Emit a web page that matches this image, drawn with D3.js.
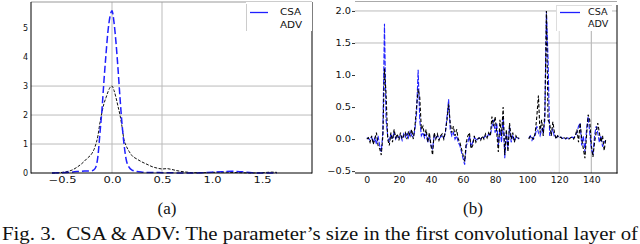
<!DOCTYPE html>
<html><head><meta charset="utf-8">
<script src="https://cdn.jsdelivr.net/npm/d3@7"></script>
<style>body{margin:0;background:#fff}svg{display:block}</style>
</head><body>
<svg id="c" width="640" height="244"></svg>
<script>
// Panel (a): density of parameter sizes
const densX   = [-0.6,-0.5,-0.45,-0.4,-0.35,-0.3,-0.25,-0.2,-0.17,-0.14,-0.12,-0.1,-0.08,-0.06,-0.04,-0.02,0,0.02,0.04,0.06,0.08,0.1,0.12,0.14,0.17,0.2,0.25,0.3,0.35,0.4,0.45,0.5,0.55,0.6,0.65,0.7,0.75,0.8,0.9,1.0,1.1,1.2,1.3,1.4,1.5,1.6,1.65];
const densCSA = [0,0.01,0.02,0.03,0.05,0.06,0.07,0.08,0.15,0.6,1.4,2.2,3.2,4.1,4.9,5.4,5.6,5.2,4.5,3.6,2.6,1.7,1.0,0.5,0.2,0.1,0.05,0.03,0.02,0.02,0.02,0.01,0.01,0.01,0.0,0.0,0.0,0.0,0.01,0.03,0.04,0.06,0.04,0.01,0,0,0];
const densADV = [0,0.02,0.05,0.1,0.2,0.33,0.5,0.68,0.9,1.3,1.75,2.1,2.4,2.6,2.8,2.95,3.0,2.85,2.6,2.3,2.0,1.6,1.15,0.95,0.75,0.6,0.48,0.38,0.3,0.22,0.17,0.14,0.15,0.12,0.08,0.05,0.03,0.01,0.01,0.02,0.03,0.02,0.01,0.0,0.01,0.03,0.02];
const aXTicks = [-0.5,0.0,0.5,1.0,1.5];
const aYTicks = [0,1,2,3,4,5];

// Panel (b): parameter values by index (null = gap)
const idx = d3.range(150);
const paramCSA = [0.02,0.01,-0.02,0.03,-0.05,0.02,-0.08,0.05,-0.1,-0.2,0.1,1.8,0.3,0.05,-0.05,0.08,0.02,0.1,0.0,0.05,
 0.02,0.06,-0.02,0.08,0.03,0.1,0.02,0.12,0.05,0.03,0.15,0.4,1.08,0.3,0.05,0.1,0.02,0.08,-0.05,0.05,
 -0.1,-0.15,0.05,0.02,0.05,0.0,0.03,0.05,0.02,0.1,0.35,0.62,0.15,0.05,0.1,0.0,0.05,-0.05,-0.1,-0.2,
 -0.3,-0.4,-0.1,-0.05,0.05,-0.12,-0.05,0.02,0.0,-0.02,0.02,0.0,0.03,0.02,0.05,0.03,0.08,0.05,0.2,0.3,
 0.1,0.25,-0.1,0.15,-0.05,0.35,-0.3,0.1,-0.15,0.2,-0.05,0.05,-0.02,0.03,0.02,0.0,null,null,null,null,
 null,0.02,0.05,-0.02,0.03,0.05,0.2,0.1,0.05,0.15,0.1,0.3,2.0,1.25,0.05,0.1,0.15,0.03,0.02,0.05,
 0.02,0.03,0.01,0.02,0.0,0.02,0.01,0.02,0.03,0.02,0.05,0.1,0.2,0.25,-0.1,0.05,-0.2,0.15,0.35,0.1,
 -0.15,-0.25,0.05,0.2,0.1,-0.05,0.05,-0.12,-0.05,-0.02];
const paramADV = [0.0,0.02,-0.05,0.05,-0.08,0.0,0.1,-0.1,-0.15,-0.25,0.05,1.1,0.7,0.0,-0.1,0.1,-0.05,0.15,0.02,0.08,
 -0.02,0.1,0.0,0.05,0.1,0.0,0.12,0.05,0.15,0.0,0.2,0.5,0.78,0.65,0.15,0.2,0.05,0.15,-0.05,0.1,
 -0.1,-0.25,0.1,0.0,0.08,-0.02,0.05,0.08,0.0,0.12,0.3,0.55,0.25,0.1,0.2,0.05,0.15,0.0,-0.05,-0.15,
 -0.25,-0.35,-0.05,0.05,0.1,-0.15,-0.1,0.05,-0.05,0.0,0.02,-0.02,0.05,0.0,0.08,0.02,0.1,0.05,0.35,0.2,
 0.35,0.1,-0.2,0.3,0.05,0.5,-0.25,0.15,-0.2,0.25,0.0,0.1,-0.05,0.05,0.0,0.02,null,null,null,null,
 null,0.0,0.05,0.02,0.0,0.1,0.35,0.68,0.1,0.3,0.05,0.4,2.0,0.3,0.25,0.05,0.27,0.1,0.0,0.05,
 0.02,0.03,0.0,0.02,0.01,0.02,0.0,0.02,0.03,0.0,0.05,0.15,-0.05,0.25,0.0,-0.15,-0.3,0.05,0.38,0.3,
 -0.1,-0.28,-0.05,0.1,0.25,0.1,-0.05,0.05,-0.18,0.0];
const bXTicks = [0,20,40,60,80,100,120,140];
const bYTicks = [-0.5,0.0,0.5,1.0,1.5,2.0];

const series = ["CSA","ADV"];
const colors = {CSA:"#1f1fff", ADV:"#000"};

const svg = d3.select("#c");
const sans = "DejaVu Sans, sans-serif";
function stretch(sel, k){
  sel.each(function(){
    const L = this.getComputedTextLength();
    this.setAttribute("textLength", L*k);
    this.setAttribute("lengthAdjust","spacingAndGlyphs");
  });
}

// ---------- Panel (a) ----------
{
  const x = d3.scaleLinear().domain([-0.81,2.0]).range([31,312]);
  const y = d3.scaleLinear().domain([0,5.9]).range([173,2]);
  const g = svg.append("g");
  g.selectAll(".gx").data([0,0.5]).join("line")
    .attr("x1",d=>x(d)).attr("x2",d=>x(d)).attr("y1",2).attr("y2",173)
    .attr("stroke","#bbb").attr("stroke-width",1);
  g.selectAll(".gy").data([1,2,3]).join("line")
    .attr("x1",31).attr("x2",312).attr("y1",d=>y(d)).attr("y2",d=>y(d))
    .attr("stroke","#bbb").attr("stroke-width",1);
  const line = (ys)=>d3.line().x((d,i)=>x(densX[i])).y(d=>y(d)).curve(d3.curveMonotoneX)(ys);
  g.append("path").attr("d",line(densADV)).attr("fill","none").attr("stroke","#111")
    .attr("stroke-width",1).attr("stroke-dasharray","3,1.5");
  g.append("path").attr("d",line(densCSA)).attr("fill","none").attr("stroke",colors.CSA)
    .attr("stroke-width",1.5).attr("stroke-dasharray","7,3");
  g.append("line").attr("x1",31).attr("x2",312).attr("y1",2).attr("y2",2).attr("stroke","#999");
  g.append("line").attr("x1",31).attr("x2",31).attr("y1",2).attr("y2",173.5).attr("stroke","#000");
  g.append("line").attr("x1",312).attr("x2",312).attr("y1",2).attr("y2",173.5).attr("stroke","#000");
  g.append("line").attr("x1",31).attr("x2",312).attr("y1",173).attr("y2",173).attr("stroke","#000");
  const ax = g.append("g").attr("transform","translate(0,173)")
    .call(d3.axisBottom(x).tickValues(aXTicks).tickSize(0).tickPadding(4).tickFormat(d=>d3.format(".1f")(d).replace("-","−")));
  ax.select(".domain").remove();
  ax.selectAll("text").attr("font-family",sans).attr("font-size",8.5).attr("fill","#111").call(stretch,1.35);
  const ay = g.append("g").attr("transform","translate(28,0)")
    .call(d3.axisLeft(y).tickValues(aYTicks).tickSize(0).tickPadding(0).tickFormat(d3.format("d")));
  ay.select(".domain").remove();
  ay.selectAll("text").attr("font-family",sans).attr("font-size",8).attr("fill","#111");
  const lg = g.append("g");
  lg.append("rect").attr("x",246).attr("y",2).attr("width",66).attr("height",29).attr("fill","#fff");
  lg.append("line").attr("x1",246.5).attr("x2",246.5).attr("y1",4).attr("y2",31).attr("stroke","#ccc");
  lg.append("line").attr("x1",250).attr("x2",268).attr("y1",12.5).attr("y2",12.5).attr("stroke",colors.CSA).attr("stroke-width",1.3);
  lg.selectAll(".lt").data(series).join("text").attr("x",280).attr("y",(d,i)=>12+i*13).attr("dy","0.35em")
    .attr("font-family",sans).attr("font-size",8).attr("fill","#111").text(d=>d).call(stretch,1.3);
}

// ---------- Panel (b) ----------
{
  const x = d3.scaleLinear().domain([-8,156]).range([354,617]);
  const y = d3.scaleLinear().domain([-0.53,2.14]).range([173,2]);
  const g = svg.append("g");
  g.selectAll(".gx").data([120,140]).join("line")
    .attr("x1",d=>x(d)).attr("x2",d=>x(d)).attr("y1",4).attr("y2",173)
    .attr("stroke",(d,i)=>i?"#bbb":"#ddd").attr("stroke-width",1.2);
  g.selectAll(".gy").data([1.5,2.0]).join("line")
    .attr("x1",355).attr("x2",617).attr("y1",d=>y(d)).attr("y2",d=>y(d))
    .attr("stroke","#bbb").attr("stroke-width",1);
  g.append("line").attr("x1",355).attr("x2",617).attr("y1",1.5).attr("y2",1.5).attr("stroke","#aaa");
  const line = d3.line().defined(d=>d!=null).x((d,i)=>x(idx[i])).y(d=>y(d));
  g.append("path").attr("d",line(paramCSA)).attr("fill","none").attr("stroke",colors.CSA)
    .attr("stroke-width",1.1).attr("stroke-dasharray","5,1.5");
  g.append("path").attr("d",line(paramADV)).attr("fill","none").attr("stroke","#000")
    .attr("stroke-width",1.1).attr("stroke-dasharray","3.5,2");
  g.append("line").attr("x1",355).attr("x2",617.5).attr("y1",173).attr("y2",173).attr("stroke","#000");
  g.append("line").attr("x1",617).attr("x2",617).attr("y1",5).attr("y2",173.5).attr("stroke","#000");
  const ax = g.append("g").attr("transform","translate(0,173)")
    .call(d3.axisBottom(x).tickValues(bXTicks).tickSize(0).tickPadding(4).tickFormat(d3.format("d")));
  ax.select(".domain").remove();
  ax.selectAll("text").attr("font-family",sans).attr("font-size",8.5).attr("fill","#111").call(stretch,1.1);
  const ay = g.append("g").attr("transform","translate(355,0)")
    .call(d3.axisLeft(y).tickValues(bYTicks).tickSize(3).tickPadding(1).tickFormat(d=>d3.format(".1f")(d).replace("-","−")));
  ay.select(".domain").remove();
  ay.selectAll("line").attr("stroke","#333");
  ay.selectAll("text").attr("font-family",sans).attr("font-size",8.5).attr("fill","#111").call(stretch,1.15);
  const lg = g.append("g");
  lg.append("rect").attr("x",556).attr("y",4).attr("width",56).attr("height",27).attr("fill","#fff");
  lg.append("line").attr("x1",556.5).attr("x2",556.5).attr("y1",5).attr("y2",31).attr("stroke","#ddd");
  lg.append("line").attr("x1",556).attr("x2",612).attr("y1",5.5).attr("y2",5.5).attr("stroke","#ddd");
  lg.append("line").attr("x1",560).attr("x2",580).attr("y1",12.5).attr("y2",12.5).attr("stroke",colors.CSA).attr("stroke-width",1.3);
  lg.selectAll(".lt").data(series).join("text").attr("x",588).attr("y",(d,i)=>12+i*12).attr("dy","0.35em")
    .attr("font-family",sans).attr("font-size",8).attr("fill","#111").text(d=>d).call(stretch,1.2);
}

// ---------- Captions ----------
const serif = "Liberation Serif, Times New Roman, serif";
svg.selectAll(".sub").data([["(a)",167],["(b)",473]]).join("text")
  .attr("x",d=>d[1]).attr("y",214).attr("text-anchor","middle")
  .attr("font-family",serif).attr("font-size",17).attr("fill","#111").text(d=>d[0]);
svg.append("text").attr("x",2).attr("y",239.5).attr("font-family",serif).attr("font-size",18)
  .attr("fill","#111").attr("textLength",636).attr("lengthAdjust","spacingAndGlyphs")
  .text("Fig. 3.\u00a0 CSA & ADV: The parameter’s size in the first convolutional layer of");
</script>
</body></html>
